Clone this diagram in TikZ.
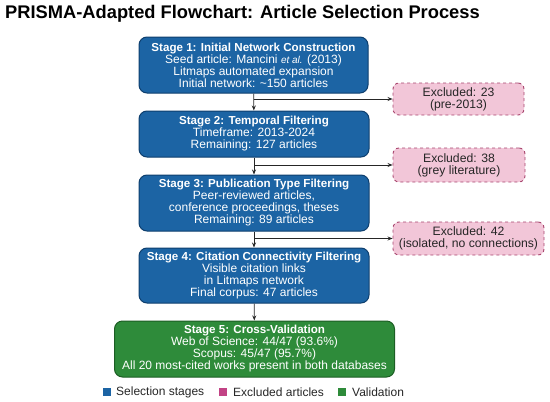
\documentclass[tikz,border=0pt]{standalone}
\usepackage{fontspec}
\setmainfont{Liberation Sans}
\usetikzlibrary{arrows.meta}
\definecolor{stageblue}{HTML}{1C64A4}
\definecolor{stageblueD}{HTML}{0E3F6E}
\definecolor{valgreen}{HTML}{2E8B3A}
\definecolor{valgreenD}{HTML}{1C5E24}
\definecolor{exfill}{HTML}{F2C6D8}
\definecolor{exdraw}{HTML}{A8456E}
\definecolor{legpink}{HTML}{C24385}
\newcommand{\sttl}[1]{{\fontsize{11.6}{12}\bfseries\selectfont #1}}
\begin{document}
\begin{tikzpicture}[x=1pt,y=-1pt,
  stagebox/.style={draw=stageblueD,line width=1pt,fill=stageblue,rounded corners=8pt,text=white,align=center,inner sep=0pt,font=\fontsize{12}{12}\selectfont},
  valbox/.style={draw=valgreenD,line width=1pt,fill=valgreen,rounded corners=8pt,text=white,align=center,inner sep=0pt,font=\fontsize{12}{12}\selectfont},
  exbox/.style={draw=exdraw,dashed,line width=0.9pt,fill=exfill,rounded corners=6pt,text=black!85,align=center,inner sep=0pt,font=\fontsize{12.2}{12}\selectfont},
  conn/.style={-{Stealth[length=5pt,width=4pt]},line width=0.8pt,black!85},
  legsq/.style={minimum size=8pt,inner sep=0pt},
  legtxt/.style={anchor=west,inner sep=0pt,font=\fontsize{12}{14}\selectfont,text=black!85}]
\useasboundingbox (0,0) rectangle (550,402);
\node[anchor=west,inner sep=0pt,font=\fontsize{18.3}{20}\bfseries\selectfont] (title) at (5,14) {PRISMA-Adapted Flowchart: Article Selection Process};

\node[stagebox,minimum width=229pt,minimum height=56pt] (s1) at (253.5,65) {\sttl{Stage 1: Initial Network Construction}\\Seed article: Mancini {\fontsize{10}{12}\selectfont\itshape et al.} (2013)\\Litmaps automated expansion\\Initial network: \textasciitilde150 articles};
\node[stagebox,minimum width=230pt,minimum height=46pt] (s2) at (254,134) {\sttl{Stage 2: Temporal Filtering}\\Timeframe: 2013-2024\\Remaining: 127 articles};
\node[stagebox,minimum width=230pt,minimum height=56pt] (s3) at (254,203) {\sttl{Stage 3: Publication Type Filtering}\\Peer-reviewed articles,\\conference proceedings, theses\\Remaining: 89 articles};
\node[stagebox,minimum width=230pt,minimum height=55pt] (s4) at (254,275.5) {\sttl{Stage 4: Citation Connectivity Filtering}\\Visible citation links\\in Litmaps network\\Final corpus: 47 articles};
\node[valbox,minimum width=280pt,minimum height=56pt] (s5) at (254.5,349) {\sttl{Stage 5: Cross-Validation}\\Web of Science: 44/47 (93.6\%)\\Scopus: 45/47 (95.7\%)\\All 20 most-cited works present in both databases};

\node[exbox,minimum width=131pt,minimum height=32pt] (e1) at (458.5,99) {Excluded: 23\\(pre-2013)};
\node[exbox,minimum width=132pt,minimum height=34pt] (e2) at (459,165) {Excluded: 38\\(grey literature)};
\node[exbox,minimum width=151pt,minimum height=33pt] (e3) at (468.5,238.5) {Excluded: 42\\(isolated, no connections)};

\draw[conn] (s1) -- (s2);
\draw[conn] (s2) -- (s3);
\draw[conn] (s3) -- (s4);
\draw[conn] (s4) -- (s5);
\draw[conn] (s1.south |- e1.west) -- (e1.west);
\draw[conn] (s2.south |- e2.west) -- (e2.west);
\draw[conn] (s3.south |- e3.west) -- (e3.west);

\node[legsq,fill=stageblue] (l1) at (107,392) {};
\node[legtxt] (t1) at (116,392) {Selection stages};
\node[legsq,fill=legpink] (l2) at (223,392) {};
\node[legtxt] (t2) at (233,392) {Excluded articles};
\node[legsq,fill=valgreen] (l3) at (342,392) {};
\node[legtxt] (t3) at (352,392) {Validation};
\end{tikzpicture}
\end{document}
